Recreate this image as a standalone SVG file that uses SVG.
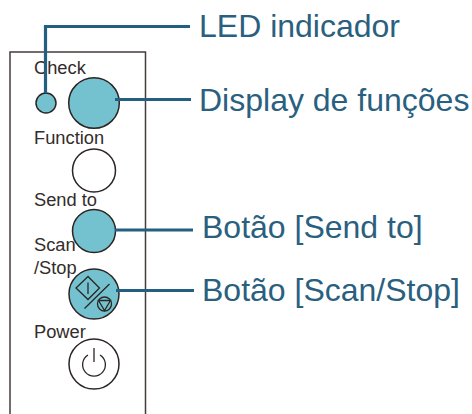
<svg xmlns="http://www.w3.org/2000/svg" width="472" height="414" viewBox="0 0 472 414">
<style>
text{font-family:"Liberation Sans",Arial,sans-serif}
.s{font-size:18.300px;fill:#332c2b}
.l{font-size:32px;fill:#2a5f80}
.k{stroke:#2b2523;stroke-width:1.3;fill:none}
.b{stroke:#2b2523;stroke-width:1.5;fill:#74c2d0}
.w{stroke:#2b2523;stroke-width:1.5;fill:#fff}
.c{stroke:#235f80;stroke-width:3.2;fill:none}
</style>
<rect width="472" height="414" fill="#fff"/>
<path id="panel" d="M10 414V52H145.500V414" fill="none" stroke="#453d3b" stroke-width="1.500"/>
<g id="check"><text class="s" x="34" y="74">Check</text><circle class="b" cx="46" cy="103" r="10"/></g>
<g id="display"><circle class="b" cx="94" cy="103" r="25.300"/></g>
<g id="function"><text class="s" x="34" y="144">Function</text><circle class="w" cx="94" cy="170.500" r="21.500"/></g>
<g id="sendto"><text class="s" x="34" y="206">Send to</text><circle class="b" cx="94" cy="231" r="21.500"/></g>
<g id="scan"><text class="s" x="34" y="250.500">Scan</text><text class="s" x="34" y="274">/Stop</text>
<circle class="b" cx="94" cy="294" r="25"/>
<path class="k" d="M88 276.500L76 288L88 299.500L99.500 288ZM88 282.500V294M84.500 308.500L109.500 284"/>
<circle class="k" cx="104.500" cy="304" r="7"/><path class="k" d="M98.500 300.500H110.500L104.500 310.500Z"/></g>
<g id="power"><text class="s" x="34" y="337.500">Power</text><circle class="w" cx="94" cy="364" r="25"/>
<path class="k" d="M88 355A11.400 11.400 0 1 0 100 355" stroke-width="1.400"/><path class="k" d="M94 348V362"/></g>
<g id="connectors">
<path class="c" d="M45.500 93V26.500H190M115 99.500H191M115 230H193M116 290.500H194"/>
</g>
<g id="labels">
<text class="l" x="199" y="37">LED indicador</text>
<text class="l" x="199" y="111">Display de funções</text>
<text class="l" x="202" y="238">Botão [Send to]</text>
<text class="l" x="202" y="301">Botão [Scan/Stop]</text>
</g>
</svg>
